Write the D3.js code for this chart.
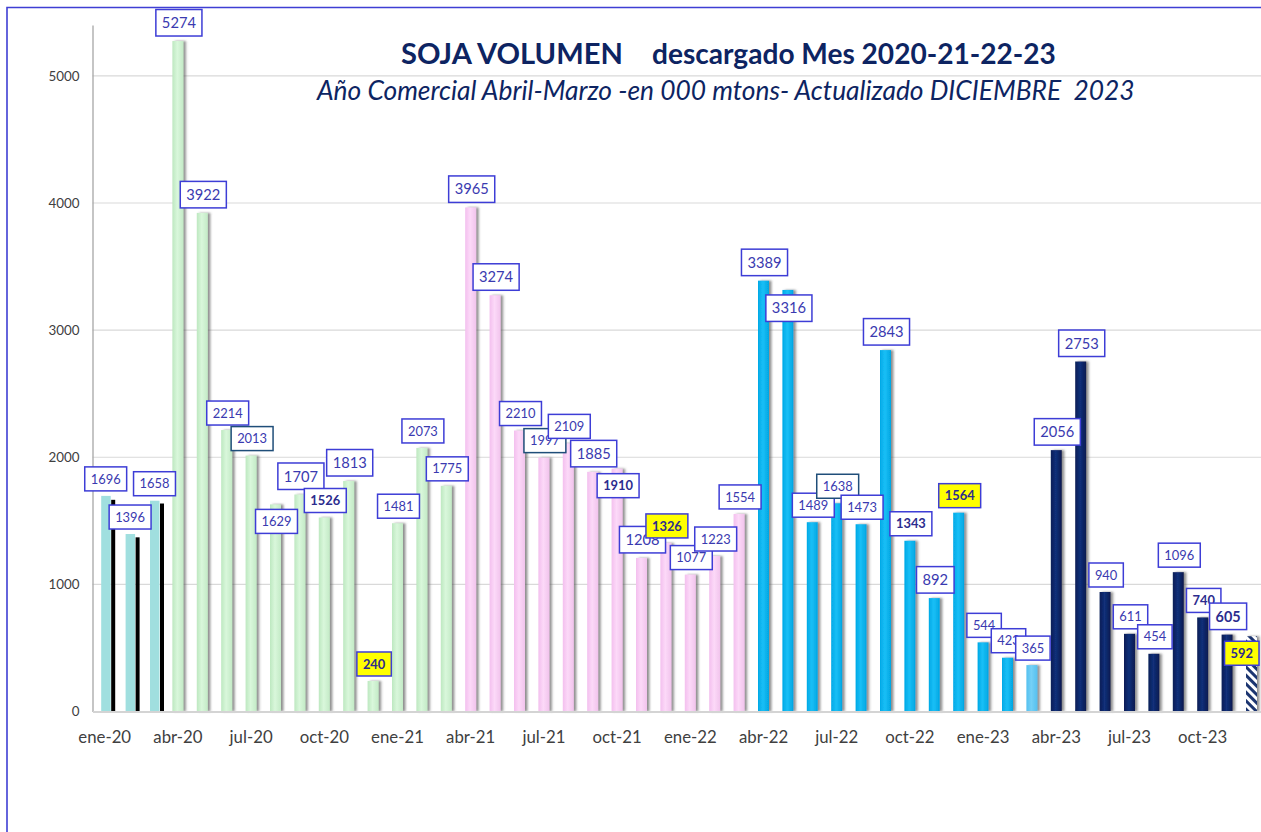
<!DOCTYPE html>
<html><head><meta charset="utf-8">
<script src="https://cdn.jsdelivr.net/npm/d3@7"></script>
<style>html,body{margin:0;padding:0;background:#fff;overflow:hidden}</style>
</head><body>
<svg id="c" width="1261" height="832"></svg>
<script>
// ---------- DATA ----------
const meses = ["ene-20","feb-20","mar-20","abr-20","may-20","jun-20","jul-20","ago-20","sep-20","oct-20","nov-20","dic-20",
  "ene-21","feb-21","mar-21","abr-21","may-21","jun-21","jul-21","ago-21","sep-21","oct-21","nov-21","dic-21",
  "ene-22","feb-22","mar-22","abr-22","may-22","jun-22","jul-22","ago-22","sep-22","oct-22","nov-22","dic-22",
  "ene-23","feb-23","mar-23","abr-23","may-23","jun-23","jul-23","ago-23","sep-23","oct-23","nov-23","dic-23"];
const volumen = [1696,1396,1658,5274,3922,2214,2013,1629,1707,1526,1813,240,
  1481,2073,1775,3965,3274,2210,1997,2109,1885,1910,1208,1326,
  1077,1223,1554,3389,3316,1489,1638,1473,2843,1343,892,1564,
  544,423,365,2056,2753,940,611,454,1096,740,605,592];
const mesesNegra = ["ene-20","feb-20","mar-20"];
const serieNegra = [1665,1370,1636];
const ticksY = [0,1000,2000,3000,4000,5000];
const ticksX = ["ene-20","abr-20","jul-20","oct-20","ene-21","abr-21","jul-21","oct-21","ene-22","abr-22","jul-22","oct-22","ene-23","abr-23","jul-23","oct-23"];
const titulo1 = "SOJA VOLUMEN";
const titulo2 = "descargado Mes 2020-21-22-23";
const subtitulo = "Año Comercial Abril-Marzo -en 000 mtons- Actualizado DICIEMBRE  2023";

// ---------- STYLE CONFIG (by month) ----------
const etiqNegrita = ["oct-20","dic-20","oct-21","dic-21","oct-22","dic-22","oct-23","nov-23","dic-23"];
const etiqAmarilla = ["dic-20","dic-21","dic-22","dic-23"];
const etiqGrande = ["abr-20","may-20","sep-20","nov-20","abr-21","may-21","sep-21","nov-21","abr-22","may-22","sep-22","nov-22","abr-23","may-23","nov-23"];
const etiqBordeOscuro = ["jul-20","jul-21","jul-22"];
const etiqDentro = ["ago-20","oct-21","may-22","dic-23"];

function grupo(i){
  if(i<3) return "teal";
  if(i<15) return "verde";
  if(i<27) return "rosa";
  if(i<38) return "azul";
  if(i===38) return "celeste";
  if(i<47) return "navy";
  return "rayado";
}

const svg = d3.select("#c");
const FONT = "Lato, 'Open Sans', sans-serif";

// defs
const defs = svg.append("defs");
const grads = {
  verde: ["#bde8c0","#d9f7db","#c3eac6"],
  rosa: ["#f3bfee","#fcd9f8","#f1c3ec"],
  azul: ["#00a9e6","#19bff6","#00a6e2"],
  celeste: ["#55c1f0","#74d0f6","#55c0ef"],
  navy: ["#071d56","#12307a","#061a50"]
};
Object.entries(grads).forEach(([k,c])=>{
  const g = defs.append("linearGradient").attr("id","g-"+k).attr("x1","0").attr("x2","1").attr("y1","0").attr("y2","0");
  g.append("stop").attr("offset","0").attr("stop-color",c[0]);
  g.append("stop").attr("offset","0.45").attr("stop-color",c[1]);
  g.append("stop").attr("offset","1").attr("stop-color",c[2]);
});
const pat = defs.append("pattern").attr("id","hatch").attr("patternUnits","userSpaceOnUse")
  .attr("width",6).attr("height",6).attr("patternTransform","rotate(-45)");
pat.append("rect").attr("width",6).attr("height",6).attr("fill","#ffffff");
pat.append("rect").attr("width",3).attr("height",6).attr("fill","#1a3470");
const f = defs.append("filter").attr("id","sh").attr("x","-60%").attr("y","-5%").attr("width","220%").attr("height","110%");
f.append("feDropShadow").attr("dx",2.5).attr("dy",0).attr("stdDeviation",1.1).attr("flood-color","#555").attr("flood-opacity",0.65);

// frame
svg.append("path").attr("d","M7,832 V7.5 H1261").attr("fill","none").attr("stroke","#3f3fd4").attr("stroke-width",1.6);

// scales
const x = d3.scaleBand().domain(meses).range([92.5, 1263.7]).padding(0);
const y = d3.scaleLinear().domain([0,5400]).range([711.5, 25]);
const bw = x.bandwidth();

// gridlines
svg.append("g").selectAll("line").data(ticksY.filter(d=>d>0)).join("line")
  .attr("x1",92.5).attr("x2",1261).attr("y1",d=>y(d)).attr("y2",d=>y(d))
  .attr("stroke","#d9d9d9").attr("stroke-width",1.2);

// y axis
const ya = svg.append("g").attr("transform","translate(92.5,0)")
  .call(d3.axisLeft(y).tickValues(ticksY).tickFormat(d3.format("d")).tickSize(0).tickPadding(13).tickSizeOuter(0));
ya.select(".domain").attr("stroke","#a6a6a6").attr("stroke-width",1.3);
ya.selectAll("text").attr("font-family",FONT).attr("font-size",13.4).attr("fill","#404040");

// bars
const barW = 11;
const bars = svg.append("g");
volumen.forEach((v,i)=>{
  const g = grupo(i), m = meses[i];
  const cx = x(m) + bw/2;
  if(g==="teal"){
    bars.append("rect").attr("x",cx-3.5).attr("width",9.5).attr("y",y(v)).attr("height",y(0)-y(v)).attr("fill","#a0dfdf");
    return;
  }
  const r = bars.append("rect").attr("x",cx-barW/2).attr("width",barW).attr("y",y(v)).attr("height",y(0)-y(v))
    .attr("filter","url(#sh)");
  if(g==="rayado") r.attr("fill","url(#hatch)"); else r.attr("fill","url(#g-"+g+")");
});
// black series
bars.selectAll("rect.negra").data(serieNegra).join("rect").attr("class","negra")
  .attr("x",(d,i)=>x(mesesNegra[i])+bw/2+6.5).attr("width",4).attr("y",d=>y(d)).attr("height",d=>y(0)-y(d)).attr("fill","#000");

// x axis
const xa = svg.append("g").attr("transform","translate(0,711.5)")
  .call(d3.axisBottom(x).tickValues(ticksX).tickSize(0).tickSizeOuter(0));
xa.select(".domain").attr("stroke","#d4d4d4").attr("stroke-width",2);
xa.selectAll("text").attr("y",31.5).attr("dy",0).attr("font-family",FONT).attr("font-size",16.8).attr("fill","#404040");

// labels
const lab = svg.append("g");
volumen.forEach((v,i)=>{
  const m = meses[i];
  const bold = etiqNegrita.includes(m), yel = etiqAmarilla.includes(m), big = etiqGrande.includes(m);
  const dark = etiqBordeOscuro.includes(m), inside = etiqDentro.includes(m);
  const fs = big ? (bold?14.4:14.7) : 12.9;
  const h = big ? 26.5 : 24;
  let cx = x(m) + bw/2 + 1;
  const top = inside ? y(v) + 5 : y(v) - 5 - h;
  const g = lab.append("g");
  const rect = g.append("rect");
  const t = g.append("text").attr("y",top+h/2).attr("dy","0.36em").attr("text-anchor","middle")
    .attr("font-family",FONT).attr("font-size",fs).attr("font-weight",bold?"bold":"normal")
    .attr("fill",bold?"#2c2c8e":"#3a3ab0").text(v);
  const w = t.node().getComputedTextLength() + 12;
  if(cx + w/2 > 1259) cx = 1259 - w/2;
  t.attr("x",cx);
  rect.attr("x",cx-w/2).attr("y",top).attr("width",w).attr("height",h)
    .attr("fill",yel?"#ffff00":"#ffffff").attr("stroke",dark?"#1f4e79":"#3d3dd6").attr("stroke-width",1.5);
});

// titles
function fit(sel, w){
  const l = sel.node().getComputedTextLength();
  sel.attr("font-size", parseFloat(sel.attr("font-size"))*w/l);
}
const t1 = svg.append("text").attr("x",401).attr("y",64).attr("font-family",FONT).attr("font-weight","bold")
  .attr("font-size",28).attr("fill","#0d2462").text(titulo1);
fit(t1, 222);
const t2 = svg.append("text").attr("x",652).attr("y",64).attr("font-family",FONT).attr("font-weight","bold")
  .attr("font-size",26).attr("fill","#0d2462").text(titulo2);
fit(t2, 404);
const st = svg.append("text").attr("x",317).attr("y",100).attr("font-family",FONT).attr("font-style","italic")
  .attr("font-size",24).attr("fill","#0d2462").style("white-space","pre").text(subtitulo);
fit(st, 818);
</script>
</body></html>
